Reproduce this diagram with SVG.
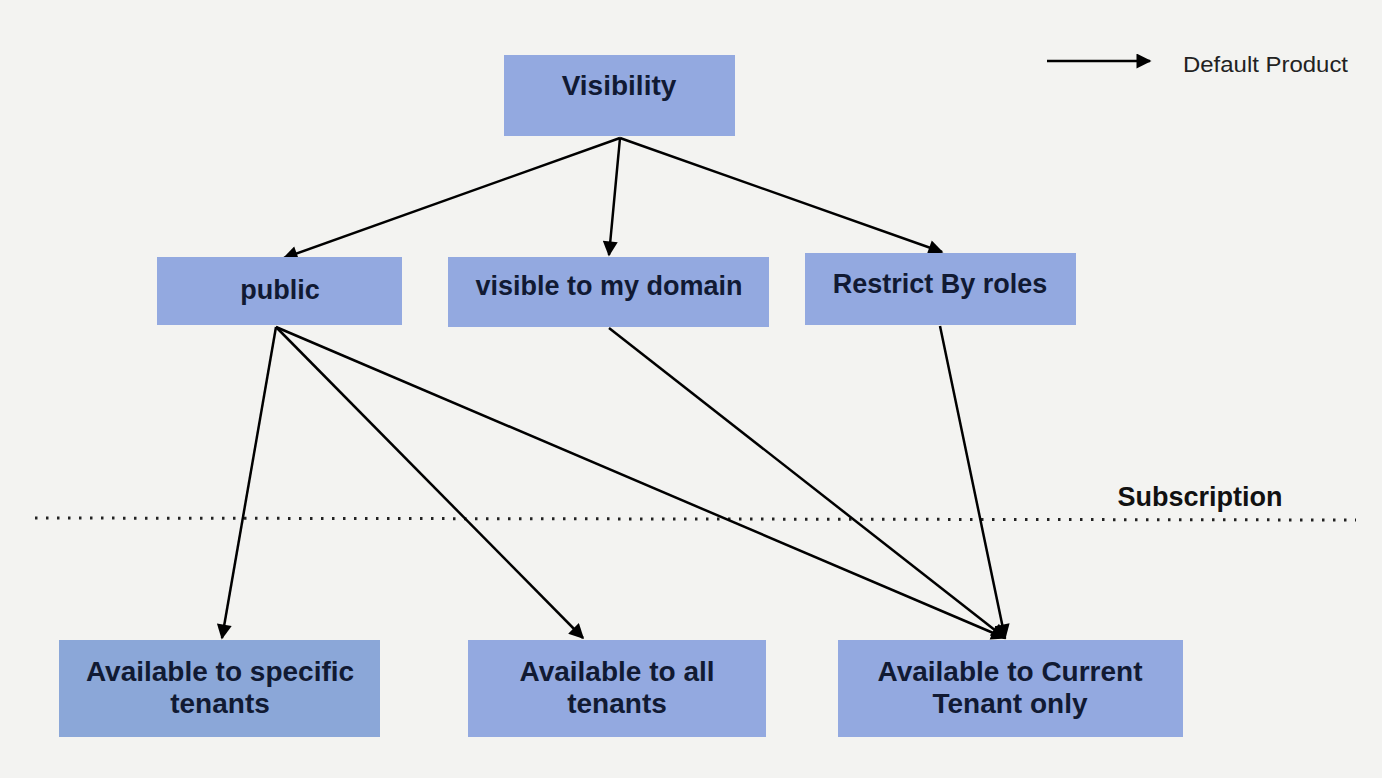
<svg xmlns="http://www.w3.org/2000/svg" width="1382" height="778" viewBox="0 0 1382 778">
<style>
.box{fill:#93a9e0;}
.box2{fill:#8ba7d8;}
.t{font-family:"Liberation Sans",Arial,sans-serif;font-weight:bold;fill:#111a33;text-anchor:middle;}
.e{stroke:#000;stroke-width:2.5;fill:none;marker-end:url(#ah);}
</style>
<defs>
<marker id="ah" viewBox="0 0 10 10" refX="9" refY="5" markerWidth="7" markerHeight="6" markerUnits="strokeWidth" orient="auto">
<path d="M0,0 L10,5 L0,10 z" fill="#000"/>
</marker>
</defs>
<rect width="1382" height="778" fill="#f3f3f1"/>
<g id="legend">
<line class="e" x1="1047" y1="61" x2="1150" y2="61"/>
<text x="1183" y="72" font-family="Liberation Sans,Arial,sans-serif" font-size="22" textLength="165" lengthAdjust="spacingAndGlyphs" fill="#222">Default Product</text>
</g>
<g id="subscription">
<line x1="35" y1="518" x2="1356" y2="520" stroke="#222" stroke-width="3" stroke-dasharray="2.5 8.5"/>
<text class="t" x="1200" y="506" font-size="27" style="fill:#111">Subscription</text>
</g>
<g id="connectors">
<line class="e" x1="620" y1="138" x2="284" y2="258"/>
<line class="e" x1="620" y1="138" x2="609" y2="255"/>
<line class="e" x1="620" y1="138" x2="942" y2="252"/>
<line class="e" x1="276" y1="327" x2="222" y2="638"/>
<line class="e" x1="276" y1="327" x2="583" y2="638"/>
<line class="e" x1="276" y1="327" x2="1005" y2="638"/>
<line class="e" x1="609" y1="328" x2="1005" y2="638"/>
<line class="e" x1="940" y1="326" x2="1005" y2="638"/>
</g>
<g id="visibility">
<rect class="box" x="504" y="55" width="231" height="81"/>
<text class="t" x="619" y="95" font-size="28">Visibility</text>
</g>
<g id="public">
<rect class="box" x="157" y="257" width="245" height="68"/>
<text class="t" x="280" y="299" font-size="27">public</text>
</g>
<g id="visible-domain">
<rect class="box" x="448" y="257" width="321" height="70"/>
<text class="t" x="609" y="295" font-size="27">visible to my domain</text>
</g>
<g id="restrict-roles">
<rect class="box" x="805" y="253" width="271" height="72"/>
<text class="t" x="940" y="293" font-size="27">Restrict By roles</text>
</g>
<g id="specific-tenants">
<rect class="box2" x="59" y="640" width="321" height="97"/>
<text class="t" x="220" y="681" font-size="28">Available to specific</text>
<text class="t" x="220" y="713" font-size="28">tenants</text>
</g>
<g id="all-tenants">
<rect class="box" x="468" y="640" width="298" height="97"/>
<text class="t" x="617" y="681" font-size="28">Available to all</text>
<text class="t" x="617" y="713" font-size="28">tenants</text>
</g>
<g id="current-tenant">
<rect class="box" x="838" y="640" width="345" height="97"/>
<text class="t" x="1010" y="681" font-size="28">Available to Current</text>
<text class="t" x="1010" y="713" font-size="28">Tenant only</text>
</g>
</svg>
